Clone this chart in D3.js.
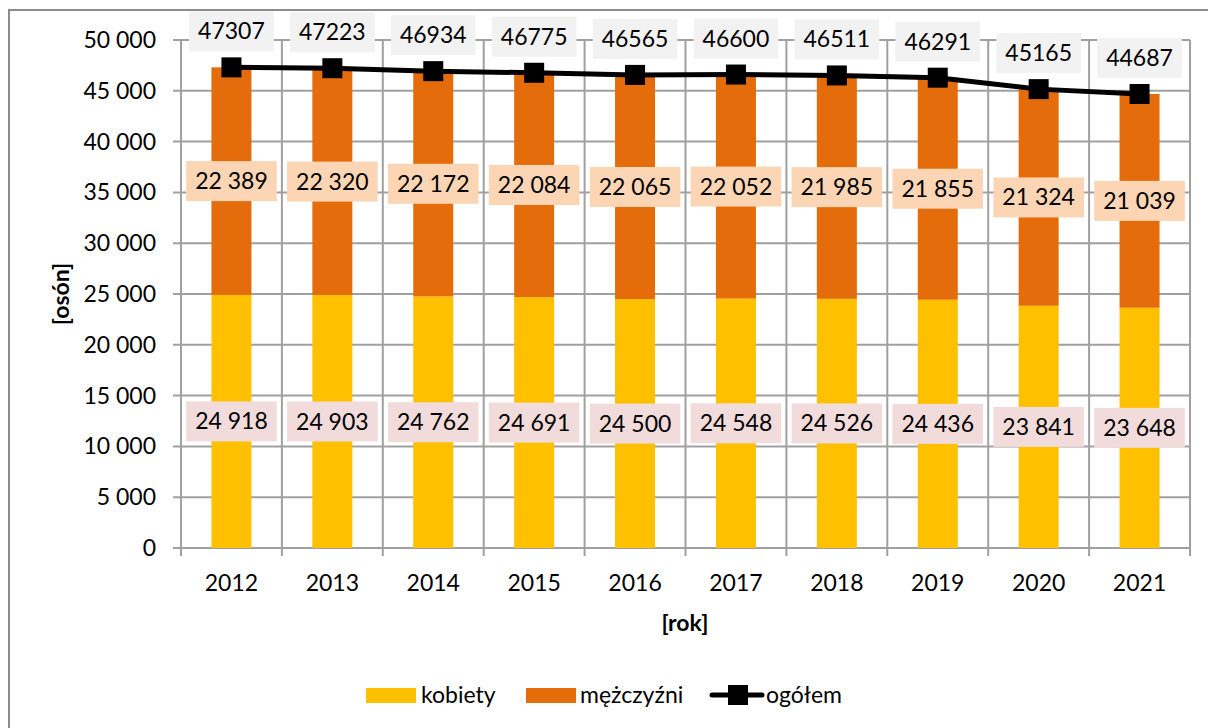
<!DOCTYPE html>
<html>
<head>
<meta charset="utf-8">
<script src="https://cdn.jsdelivr.net/npm/d3@7"></script>
<style>
    html, body { margin: 0; padding: 0; background: #fff; }
    svg { display: block; font-family: Lato, "Open Sans", sans-serif; }
</style>
</head>
<body>
<svg id="chart"></svg>
<script>
const years = ["2012", "2013", "2014", "2015", "2016", "2017", "2018", "2019", "2020", "2021"];
const kobiety = [24918, 24903, 24762, 24691, 24500, 24548, 24526, 24436, 23841, 23648];
const mezczyzni = [22389, 22320, 22172, 22084, 22065, 22052, 21985, 21855, 21324, 21039];
const ogolem = [47307, 47223, 46934, 46775, 46565, 46600, 46511, 46291, 45165, 44687];
const yTicks = [0, 5000, 10000, 15000, 20000, 25000, 30000, 35000, 40000, 45000, 50000];

const WIDTH = 1208;
const HEIGHT = 728;
const COLOR_K = "#FFC000";
const COLOR_M = "#E46C0A";
const GRID = "#a0a0a0";
const FONT = 23;

const svg = d3.select("#chart").attr("width", WIDTH).attr("height", HEIGHT);

// outer chart border (left and top visible)
svg.append("rect")
    .attr("x", 9).attr("y", 10)
    .attr("width", 1240).attr("height", 760)
    .attr("fill", "none")
    .attr("stroke", "#8c8c8c")
    .attr("stroke-width", 2);

const plot = { left: 181, right: 1190, top: 40, bottom: 548 };

const x = d3.scaleBand().domain(years).range([plot.left, plot.right]).paddingInner(0).paddingOuter(0);
const y = d3.scaleLinear().domain([0, 50000]).range([plot.bottom, plot.top]);
const fmt = (v) => d3.format(",")(v).replace(/,/g, " ");
const barW = 40;

// horizontal grid + y ticks
svg.append("g")
    .selectAll("line")
    .data(yTicks)
    .join("line")
    .attr("x1", plot.left - 8)
    .attr("x2", plot.right)
    .attr("y1", (d) => y(d))
    .attr("y2", (d) => y(d))
    .attr("stroke", GRID)
    .attr("stroke-width", 2);

// vertical grid at category boundaries
const bounds = years.map((yr) => x(yr)).concat([plot.right]);
svg.append("g")
    .selectAll("line")
    .data(bounds)
    .join("line")
    .attr("x1", (d) => d)
    .attr("x2", (d) => d)
    .attr("y1", plot.top)
    .attr("y2", plot.bottom + 8)
    .attr("stroke", GRID)
    .attr("stroke-width", 2);

// y tick labels
svg.append("g")
    .selectAll("text")
    .data(yTicks)
    .join("text")
    .attr("x", 156)
    .attr("y", (d) => y(d))
    .attr("dy", "0.35em")
    .attr("text-anchor", "end")
    .attr("font-size", FONT)
    .attr("fill", "#000")
    .text((d) => fmt(d));

// x tick labels
svg.append("g")
    .selectAll("text")
    .data(years)
    .join("text")
    .attr("x", (d) => x(d) + x.bandwidth() / 2)
    .attr("y", 583)
    .attr("dy", "0.35em")
    .attr("text-anchor", "middle")
    .attr("font-size", FONT)
    .attr("fill", "#000")
    .text((d) => d);

// axis titles
svg.append("text")
    .attr("transform", "translate(61, 294) rotate(-90)")
    .attr("text-anchor", "middle")
    .attr("dy", "0.35em")
    .attr("font-size", FONT)
    .attr("font-weight", 700)
    .text("[osón]");

svg.append("text")
    .attr("x", 685)
    .attr("y", 623)
    .attr("dy", "0.35em")
    .attr("text-anchor", "middle")
    .attr("font-size", FONT)
    .attr("font-weight", 700)
    .text("[rok]");

// bars
const rows = years.map((yr, i) => ({ year: yr, k: kobiety[i], m: mezczyzni[i], t: ogolem[i] }));
const cx = (d) => x(d.year) + x.bandwidth() / 2;

svg.append("g")
    .selectAll("rect")
    .data(rows)
    .join("rect")
    .attr("x", (d) => cx(d) - barW / 2)
    .attr("width", barW)
    .attr("y", (d) => y(d.k))
    .attr("height", (d) => y(0) - y(d.k))
    .attr("fill", COLOR_K);

svg.append("g")
    .selectAll("rect")
    .data(rows)
    .join("rect")
    .attr("x", (d) => cx(d) - barW / 2)
    .attr("width", barW)
    .attr("y", (d) => y(d.k + d.m))
    .attr("height", (d) => y(d.k) - y(d.k + d.m))
    .attr("fill", COLOR_M);

// label with background box
function boxLabel(g, px, py, text, fill) {
    const t = g.append("text")
        .attr("x", px)
        .attr("y", py)
        .attr("dy", "0.35em")
        .attr("text-anchor", "middle")
        .attr("font-size", FONT)
        .attr("fill", "#000")
        .text(text);
    const w = t.node().getComputedTextLength() + 18;
    g.insert("rect", () => t.node())
        .attr("x", px - w / 2)
        .attr("y", py - 20)
        .attr("width", w)
        .attr("height", 40)
        .attr("fill", fill);
}

const kLabels = svg.append("g");
rows.forEach((d) => boxLabel(kLabels, cx(d), y(d.k / 2), fmt(d.k), "#F2DCDB"));
const mLabels = svg.append("g");
rows.forEach((d) => boxLabel(mLabels, cx(d), y(d.k + d.m / 2), fmt(d.m), "#FCD5B4"));

// total line
const line = d3.line().x((d) => cx(d)).y((d) => y(d.t));
svg.append("path")
    .datum(rows)
    .attr("d", line)
    .attr("fill", "none")
    .attr("stroke", "#000")
    .attr("stroke-width", 5)
    .attr("stroke-linejoin", "round");

svg.append("g")
    .selectAll("rect")
    .data(rows)
    .join("rect")
    .attr("x", (d) => cx(d) - 10)
    .attr("y", (d) => y(d.t) - 10)
    .attr("width", 20)
    .attr("height", 20)
    .attr("fill", "#000");

const tLabels = svg.append("g");
rows.forEach((d) => boxLabel(tLabels, cx(d), y(d.t) - 36, String(d.t), "#F2F2F2"));

// legend
const legend = svg.append("g").attr("font-size", FONT);
legend.append("rect").attr("x", 366).attr("y", 688).attr("width", 50).attr("height", 15).attr("fill", COLOR_K);
legend.append("text").attr("x", 421).attr("y", 695).attr("dy", "0.35em").text("kobiety");
legend.append("rect").attr("x", 526).attr("y", 688).attr("width", 50).attr("height", 15).attr("fill", COLOR_M);
legend.append("text").attr("x", 580).attr("y", 695).attr("dy", "0.35em").text("mężczyźni");
legend.append("line").attr("x1", 712).attr("x2", 762).attr("y1", 695).attr("y2", 695)
    .attr("stroke", "#000").attr("stroke-width", 5).attr("stroke-linecap", "round");
legend.append("rect").attr("x", 728).attr("y", 685).attr("width", 20).attr("height", 20).attr("fill", "#000");
legend.append("text").attr("x", 766).attr("y", 695).attr("dy", "0.35em").text("ogółem");
</script>
</body>
</html>
